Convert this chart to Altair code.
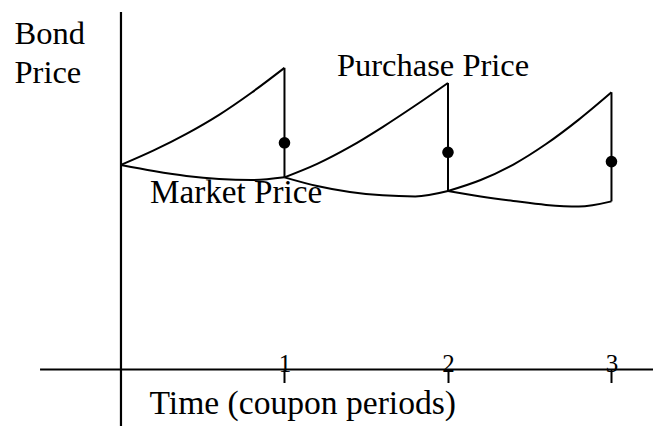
import altair as alt
import pandas as pd

FONT = "Liberation Serif"

# ---- data -------------------------------------------------------------
coupon_dates = [1, 2, 3]
period_steps = [0.0, 0.2, 0.4, 0.6, 0.8, 1.0]

# purchase price inside each coupon period
purchase_p1 = [98.8, 105.8, 113.8, 123.0, 133.8, 145.7]
purchase_p2 = [92.8, 99.3, 107.5, 117.1, 127.5, 138.4]
purchase_p3 = [86.2, 91.5, 99.0, 108.9, 120.7, 133.9]

# market price inside each coupon period
market_p1 = [98.8, 95.9, 93.5, 92.0, 91.5, 92.8]
market_p2 = [92.8, 88.6, 85.7, 84.1, 83.6, 86.2]
market_p3 = [86.2, 83.6, 81.4, 79.5, 78.7, 81.2]

# dots on the drop lines at each coupon date
dot_values = [109.5, 104.9, 100.4]

x_title = "Time (coupon periods)"
y_title = ["Bond", "Price"]
purchase_label = "Purchase Price"
market_label = "Market Price"

# ---- tables -------------------------------------------------------------
purchase = [purchase_p1, purchase_p2, purchase_p3]
market = [market_p1, market_p2, market_p3]

rows = []
for k, (pp, mp) in enumerate(zip(purchase, market)):
    for s, a, b in zip(period_steps, pp, mp):
        rows.append({"t": k + s, "period": k + 1, "series": "purchase", "price": a})
        rows.append({"t": k + s, "period": k + 1, "series": "market", "price": b})
curves = pd.DataFrame(rows)

drops = pd.DataFrame({
    "t": coupon_dates,
    "top": [p[-1] for p in purchase],
    "bottom": [m[-1] for m in market],
})
dots = pd.DataFrame({"t": coupon_dates, "price": dot_values})

# drawn axis lines (data units)
axes_lines = pd.DataFrame({
    "x": [-0.495, 0.0],
    "x2": [3.254, 0.0],
    "y": [0.0, 172.7],
    "y2": [0.0, -27.3],
})

labels = pd.DataFrame({
    "t": [1.321, 0.177],
    "price": [141.8, 80.3],
    "text": [purchase_label, market_label],
    "size": [32.5, 33.2],
})

# ---- scales & axes ------------------------------------------------------
xs = alt.Scale(domain=[-0.691, 3.254], nice=False, zero=False)
ys = alt.Scale(domain=[-27.3, 174.6], nice=False, zero=False)

x_axis = alt.Axis(
    orient="bottom", offset=-56.5, values=coupon_dates, format="d",
    domain=False, grid=False, ticks=True, tickSize=13, tickWidth=2,
    tickColor="black", labelFont=FONT, labelFontSize=25, labelColor="black",
    labelPadding=-11.5, labelBaseline="alphabetic", labelAlign="center",
    labelFlush=False, labelOverlap=False,
    title=x_title, titleFont=FONT, titleFontSize=33.6, titleFontWeight="normal",
    titleColor="black", titleX=141, titleY=43.5, titleAlign="left",
    titleBaseline="alphabetic",
)
y_axis = alt.Axis(
    orient="left", offset=-113, domain=False, grid=False, ticks=False,
    labels=False,
    title=y_title, titleFont=FONT, titleFontSize=32.5, titleFontWeight="normal",
    titleColor="black", titleAngle=0, titleX=-107, titleY=35,
    titleAlign="left", titleBaseline="alphabetic", titleLineHeight=39,
)

X = lambda f: alt.X(f, type="quantitative", scale=xs, axis=x_axis)
Y = lambda f: alt.Y(f, type="quantitative", scale=ys, axis=y_axis)

axis_layer = alt.Chart(axes_lines).mark_rule(color="black", strokeWidth=2.2).encode(
    x=X("x"), x2="x2", y=Y("y"), y2="y2"
)

curve_layer = alt.Chart(curves).mark_line(
    color="black", strokeWidth=2, interpolate="monotone"
).encode(
    x=X("t"), y=Y("price"), detail=["series:N", "period:N"]
)

drop_layer = alt.Chart(drops).mark_rule(color="black", strokeWidth=2).encode(
    x=X("t"), y=Y("top"), y2="bottom"
)

dot_layer = alt.Chart(dots).mark_circle(color="black", size=135, opacity=1).encode(
    x=X("t"), y=Y("price")
)

text_layer = alt.Chart(labels).mark_text(
    font=FONT, align="left", baseline="alphabetic", color="black"
).encode(
    x=X("t"), y=Y("price"), text="text:N",
    size=alt.Size("size:Q", scale=None, legend=None),
)

chart = alt.layer(
    axis_layer, curve_layer, drop_layer, dot_layer, text_layer
).properties(
    width=645, height=418, padding=0, autosize="none", background="white"
).configure_view(stroke=None)

chart.save("out.html", embed_options={"renderer": "svg", "actions": False})
